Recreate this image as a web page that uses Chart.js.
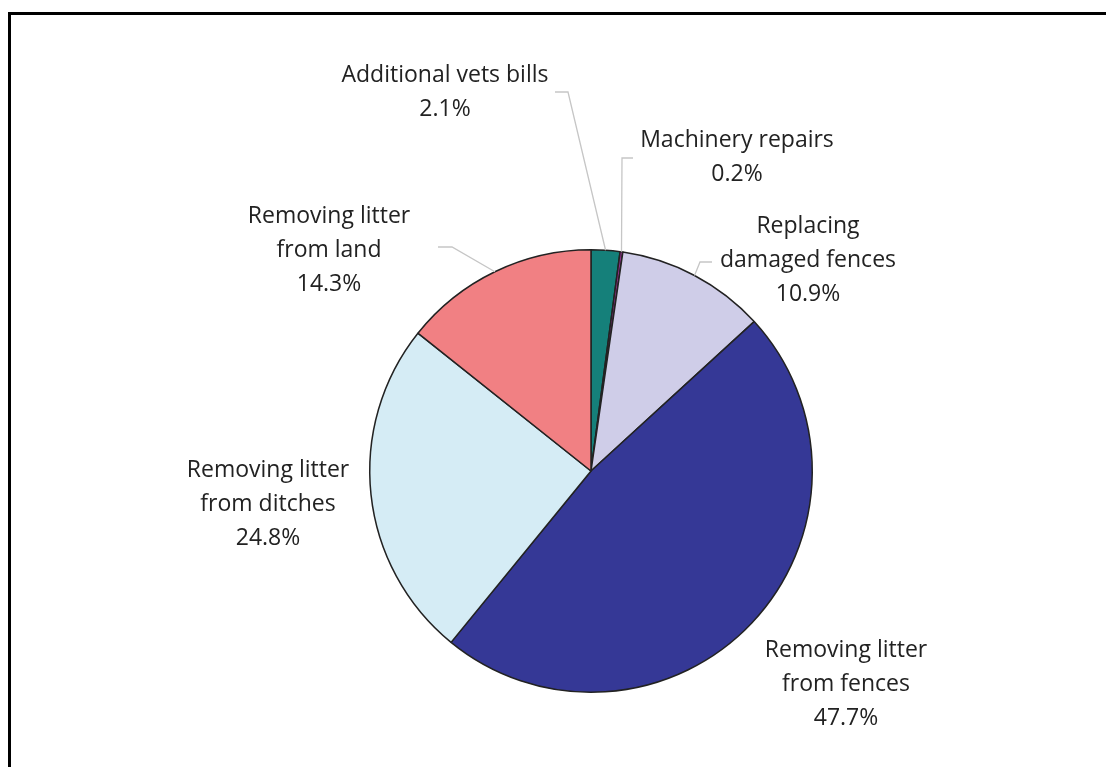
<!DOCTYPE html>
<html>
<head>
<meta charset="utf-8">
<script src="https://cdn.jsdelivr.net/npm/chart.js@4.4.1/dist/chart.umd.min.js"></script>
<style>
  html, body { margin: 0; padding: 0; background: #fff; overflow: hidden; }
  #frame {
    position: absolute; left: 8px; top: 12px; right: -10px; bottom: -10px;
    border-left: 3px solid #000; border-top: 3px solid #000;
  }
  #chart { position: absolute; left: 0; top: 0; }
</style>
</head>
<body>
<div id="frame"></div>
<canvas id="chart" width="1106" height="767"></canvas>
<script>
/* DATA */
const categories = [
    ["Additional vets bills"],
    ["Machinery repairs"],
    ["Replacing", "damaged fences"],
    ["Removing litter", "from fences"],
    ["Removing litter", "from ditches"],
    ["Removing litter", "from land"]
];
const shares = [2.1, 0.2, 10.9, 47.7, 24.8, 14.3];
const colours = ["#15807a", "#8e2f86", "#cfcde8", "#353896", "#d5ecf5", "#f18083"];

/* LABEL LAYOUT (offsets from pie centre) */
const labelPos = [
    { dx: -146, dy: -396, leader: [[-36, -379], [-23, -379]] },
    { dx: 146, dy: -331, leader: [[42, -313], [31, -313]] },
    { dx: 217, dy: -245, leader: [[121, -209], [109, -209]] },
    { dx: 255, dy: 179 },
    { dx: -323, dy: -1 },
    { dx: -262, dy: -255, leader: [[-153, -224], [-139, -224]] }
];

const outsideLabels = {
    id: 'outsideLabels',
    afterDatasetsDraw(chart) {
        const ctx = chart.ctx;
        const arcs = chart.getDatasetMeta(0).data;
        ctx.save();
        arcs.forEach((arc, i) => {
            const cx = arc.x, cy = arc.y;
            const pos = labelPos[i];
            if (pos.leader) {
                const mid = (arc.startAngle + arc.endAngle) / 2;
                ctx.beginPath();
                ctx.strokeStyle = "#c6c6c6";
                ctx.lineWidth = 1.3;
                ctx.moveTo(cx + pos.leader[0][0], cy + pos.leader[0][1]);
                ctx.lineTo(cx + pos.leader[1][0], cy + pos.leader[1][1]);
                ctx.lineTo(cx + Math.cos(mid) * arc.outerRadius, cy + Math.sin(mid) * arc.outerRadius);
                ctx.stroke();
            }
            const lines = categories[i].concat([shares[i].toFixed(1) + "%"]);
            ctx.fillStyle = "#222";
            ctx.font = "500 23px 'Open Sans'";
            ctx.textAlign = "center";
            ctx.textBaseline = "middle";
            lines.forEach((t, k) => {
                ctx.fillText(t, cx + pos.dx, cy + pos.dy + k * 34);
            });
        });
        ctx.restore();
    }
};

let ctx = document.getElementById("chart").getContext("2d");

let chart = new Chart(ctx, {
    type: 'pie',
    data: {
        labels: categories,
        datasets: [{
            data: shares,
            backgroundColor: colours,
            borderColor: "#222",
            borderWidth: 1.5
        }]
    },
    options: {
        responsive: false,
        animation: false,
        layout: { padding: { left: 369, right: 293, top: 249, bottom: 74 } },
        plugins: {
            legend: { display: false },
            tooltip: { enabled: false }
        }
    },
    plugins: [outsideLabels]
});
</script>
</body>
</html>
